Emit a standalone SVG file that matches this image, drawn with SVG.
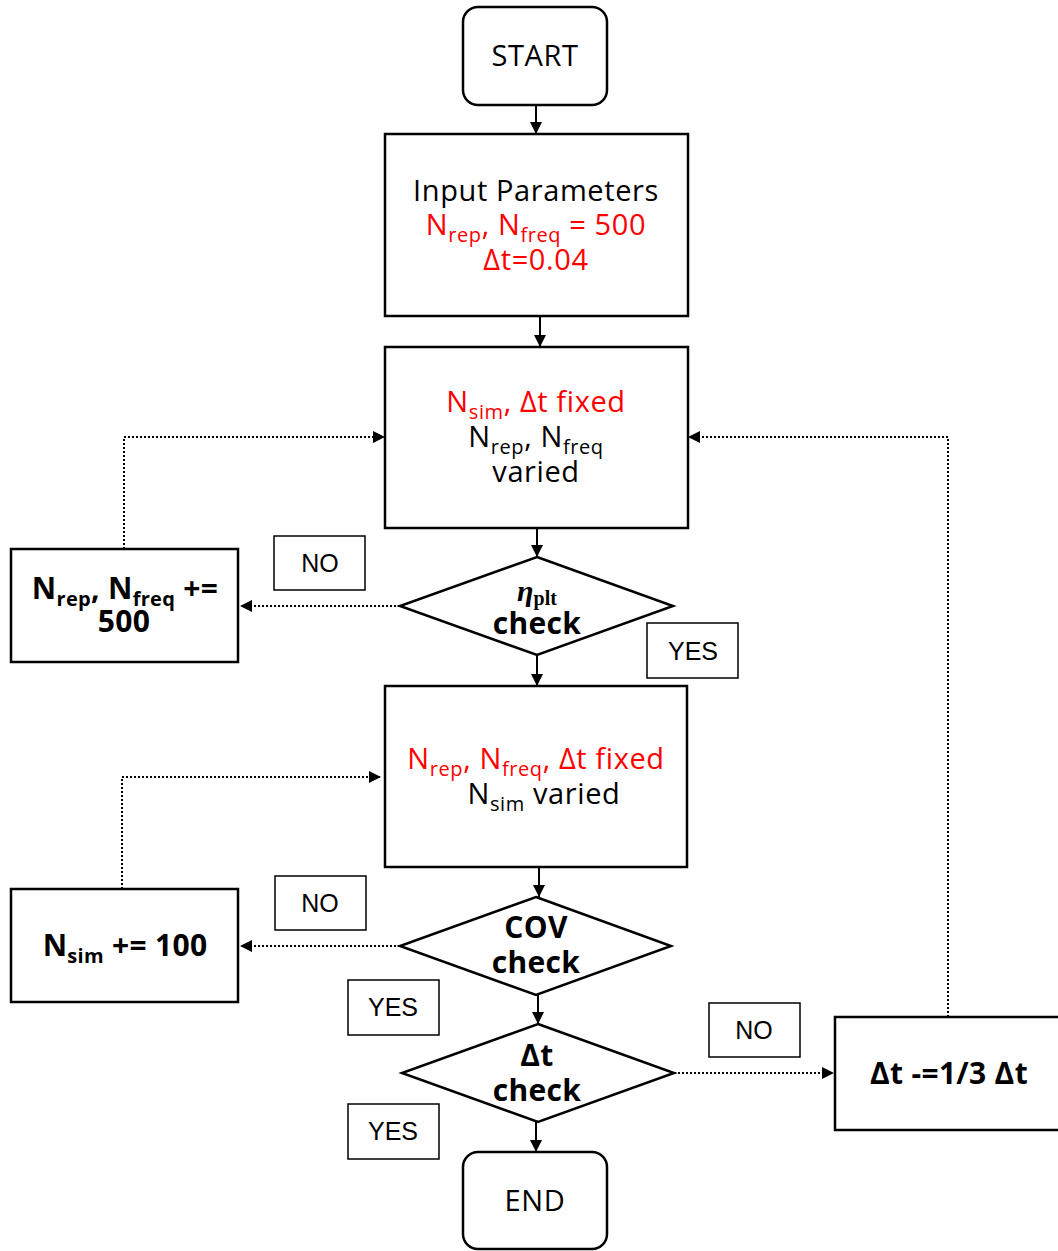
<svg xmlns="http://www.w3.org/2000/svg" width="1058" height="1251" viewBox="0 0 1058 1251">
<defs>
<marker id="ahs" viewBox="0 0 10 10" refX="10" refY="5" markerWidth="12" markerHeight="12" markerUnits="userSpaceOnUse" orient="auto">
<path d="M0,0 L10,5 L0,10 z" fill="#000"/>
</marker>
</defs>
<style>
.box{fill:#fff;stroke:#000;stroke-width:2.5}
.lbl{fill:#fff;stroke:#000;stroke-width:1.5}
.t{font-family:"Open Sans","Liberation Sans",sans-serif;font-size:29px;letter-spacing:0.6px;fill:#000;text-anchor:middle}
.r{fill:#f00}
.b{font-weight:bold;font-size:30px;letter-spacing:0.3px}
.yn{font-family:"Liberation Sans",sans-serif;font-size:25px;fill:#000;text-anchor:middle}
.sub{font-size:20px}
.solid{stroke:#000;stroke-width:2;fill:none;marker-end:url(#ahs)}
.dot{stroke:#000;stroke-width:2;stroke-dasharray:2 2;fill:none;marker-end:url(#ahs)}
</style>
<rect width="1058" height="1251" fill="#fff"/>
<g id="connectors">
<path class="solid" d="M536,105 V134"/>
<path class="solid" d="M540,316 V347"/>
<path class="solid" d="M537,528 V557"/>
<path class="solid" d="M537,655 V686"/>
<path class="solid" d="M539,867 V897"/>
<path class="solid" d="M538,995 V1024"/>
<path class="solid" d="M536,1122 V1152"/>
<path class="dot" d="M400,606 H240"/>
<path class="dot" d="M124,549 V437 H385"/>
<path class="dot" d="M400,946 H240"/>
<path class="dot" d="M122,889 V777 H381"/>
<path class="dot" d="M674,1073 H834"/>
<path class="dot" d="M948,1017 V437 H688"/>
</g>
<g id="start">
<rect class="box" x="463" y="7" width="144" height="98" rx="15"/>
<text class="t" x="535" y="66">START</text>
</g>
<g id="input">
<rect class="box" x="385" y="134" width="303" height="182"/>
<text class="t" x="536" y="201">Input Parameters</text>
<text class="t r" x="536" y="235">N<tspan class="sub" dy="7">rep</tspan><tspan dy="-7">, N</tspan><tspan class="sub" dy="7">freq</tspan><tspan dy="-7"> = 500</tspan></text>
<text class="t r" x="536" y="270">Δt=0.04</text>
</g>
<g id="phase1">
<rect class="box" x="385" y="347" width="303" height="181"/>
<text class="t r" x="536" y="412">N<tspan class="sub" dy="7">sim</tspan><tspan dy="-7">, Δt fixed</tspan></text>
<text class="t" x="536" y="447">N<tspan class="sub" dy="7">rep</tspan><tspan dy="-7">, N</tspan><tspan class="sub" dy="7">freq</tspan></text>
<text class="t" x="536" y="482">varied</text>
</g>
<g id="check1">
<polygon class="box" points="537,557 673,606 537,655 400,606"/>
<text x="537" y="601" text-anchor="middle" font-family="Liberation Serif,serif" font-weight="bold"><tspan font-style="italic" font-size="30">η</tspan><tspan font-size="20" dy="4">plt</tspan></text>
<text class="t b" x="537" y="634">check</text>
</g>
<g id="no1">
<rect class="lbl" x="274" y="536" width="91" height="54"/>
<text class="yn" x="320" y="572">NO</text>
</g>
<g id="inc1">
<rect class="box" x="11" y="549" width="227" height="113"/>
<text class="t b" x="125" y="599">N<tspan class="sub" dy="7">rep</tspan><tspan dy="-7">, N</tspan><tspan class="sub" dy="7">freq</tspan><tspan dy="-7"> +=</tspan></text>
<text class="t b" x="124" y="632">500</text>
</g>
<g id="yes1">
<rect class="lbl" x="647" y="623" width="91" height="55"/>
<text class="yn" x="693" y="660">YES</text>
</g>
<g id="phase2">
<rect class="box" x="385" y="686" width="302" height="181"/>
<text class="t r" x="536" y="769">N<tspan class="sub" dy="7">rep</tspan><tspan dy="-7">, N</tspan><tspan class="sub" dy="7">freq</tspan><tspan dy="-7">, Δt fixed</tspan></text>
<text class="t" x="544" y="804">N<tspan class="sub" dy="7">sim</tspan><tspan dy="-7"> varied</tspan></text>
</g>
<g id="check2">
<polygon class="box" points="536,897 671,946 536,995 400,946"/>
<text class="t b" x="536" y="938">COV</text>
<text class="t b" x="536" y="973">check</text>
</g>
<g id="no2">
<rect class="lbl" x="275" y="876" width="91" height="54"/>
<text class="yn" x="320" y="912">NO</text>
</g>
<g id="inc2">
<rect class="box" x="11" y="889" width="227" height="113"/>
<text class="t b" x="125" y="956">N<tspan class="sub" dy="7">sim</tspan><tspan dy="-7"> += 100</tspan></text>
</g>
<g id="yes2">
<rect class="lbl" x="348" y="980" width="91" height="55"/>
<text class="yn" x="393" y="1016">YES</text>
</g>
<g id="check3">
<polygon class="box" points="538,1024 674,1073 538,1122 402,1073"/>
<text class="t b" x="537" y="1066">Δt</text>
<text class="t b" x="537" y="1101">check</text>
</g>
<g id="no3">
<rect class="lbl" x="709" y="1003" width="91" height="54"/>
<text class="yn" x="754" y="1039">NO</text>
</g>
<g id="dec">
<rect class="box" x="835" y="1017" width="230" height="113"/>
<text class="t b" x="949" y="1084">Δt -=1/3 Δt</text>
</g>
<g id="yes3">
<rect class="lbl" x="348" y="1104" width="91" height="55"/>
<text class="yn" x="393" y="1140">YES</text>
</g>
<g id="end">
<rect class="box" x="463" y="1152" width="144" height="97" rx="15"/>
<text class="t" x="535" y="1211">END</text>
</g>
</svg>
